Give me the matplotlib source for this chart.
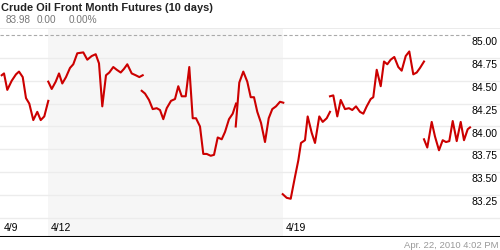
import numpy as np
import matplotlib
matplotlib.use("Agg")
import matplotlib.pyplot as plt

plt.rcParams['font.family'] = ['Liberation Sans', 'DejaVu Sans']

# time is in trading days from the 4/9 open, None breaks the line between sessions
times = [
    0.015, 0.064, 0.134, 0.228, 0.319, 0.383, 0.462, 0.532, 0.602, 0.687, 0.772, 0.845, 0.921, 1.006, None,
    1.006, 1.079, 1.164, 1.234, 1.304, 1.383, 1.468, 1.538, 1.623, 1.751, 1.836, 1.930, 2.015, 2.085, 2.155,
    2.234, 2.304, 2.389, 2.462, 2.547, 2.617, 2.687, 2.781, 2.866, 2.943, 3.015, None,
    2.994, 3.064, 3.149, 3.228, 3.313, 3.383, 3.453, 3.526, 3.617, 3.702, 3.772, 3.845, 3.930, 4.006, 4.079,
    4.149, 4.234, 4.304, 4.377, 4.462, 4.532, 4.611, 4.696, 4.766, 4.851, 4.930, 5.0, None,
    4.994, 5.070, 5.155, 5.240, 5.313, 5.383, 5.453, 5.532, 5.617, 5.696, 5.772, 5.851, 5.936, 6.006, None,
    5.994, 6.079, 6.164, 6.255, 6.326, 6.383, 6.468, 6.525, 6.611, 6.681, 6.772, 6.845, 6.930, 7.0, None,
    7.0, 7.070, 7.155, 7.228, 7.319, 7.404, 7.474, 7.553, 7.638, 7.709, 7.781, 7.866, 7.921, 7.994, 8.079,
    8.149, 8.219, 8.291, 8.368, 8.453, 8.525, 8.611, 8.687, 8.772, 8.845, 8.915, 9.0, None,
    9.0, 9.070, 9.164, 9.234, 9.319, 9.398, 9.468, 9.538, 9.611, 9.696, 9.781, 9.851, 9.930, 9.979,
]
prices = [
    84.56, 84.58, 84.40, 84.50, 84.57, 84.60, 84.54, 84.31, 84.25, 84.07, 84.16, 84.07, 84.11, 84.28, None,
    84.49, 84.41, 84.49, 84.58, 84.47, 84.54, 84.64, 84.68, 84.80, 84.81, 84.73, 84.77, 84.79, 84.69, 84.22,
    84.56, 84.59, 84.65, 84.62, 84.59, 84.63, 84.68, 84.58, 84.56, 84.54, 84.56, None,
    84.39, 84.36, 84.29, 84.19, 84.20, 84.18, 84.08, 84.20, 84.28, 84.30, 84.44, 84.33, 84.33, 84.65, 84.09,
    84.09, 84.00, 83.70, 83.70, 83.68, 83.69, 83.88, 83.86, 83.94, 84.08, 84.14, 84.25, None,
    84.00, 84.48, 84.60, 84.49, 84.32, 84.32, 84.16, 84.04, 83.83, 84.09, 84.19, 84.22, 84.27, 84.26, None,
    83.26, 83.22, 83.21, 83.45, 83.63, 83.82, 83.85, 84.11, 83.93, 83.82, 84.11, 84.05, 84.09, 84.16, None,
    84.33, 84.34, 84.11, 84.29, 84.19, 84.20, 84.18, 84.22, 84.16, 84.14, 84.22, 84.30, 84.32, 84.62, 84.44,
    84.71, 84.68, 84.73, 84.76, 84.65, 84.61, 84.77, 84.82, 84.57, 84.59, 84.64, 84.71, None,
    83.86, 83.77, 84.05, 83.89, 83.74, 83.85, 83.83, 83.84, 84.06, 83.84, 84.05, 83.85, 83.97, 83.99,
]

y_levels = [83.00, 83.25, 83.50, 83.75, 84.00, 84.25, 84.50, 84.75]
y_labels = ['', '83.25', '83.50', '83.75', '84.00', '84.25', '84.50', '84.75']
top_level = 85.00
x_ticks = [0, 1, 6]
x_labels = ['4/9', '4/12', '4/19']
shade_week = (1, 6)

title = 'Crude Oil Front Month Futures (10 days)'
last_price, change, change_pct = '83.98', '0.00', '0.00%'
stamp = 'Apr. 22, 2010 4:02 PM'

t = np.array([np.nan if v is None else v for v in times])
p = np.array([np.nan if v is None else v for v in prices])

fig = plt.figure(figsize=(5, 2.5), dpi=100)
ax = fig.add_axes([0, 0.052, 1, 0.836])
ax.set_xlim(-1 / 47, 499 / 47)
ax.set_ylim(82.792, 85.0765)
ax.axis('off')

ax.axvspan(*shade_week, color='#f6f6f6', lw=0, zorder=0)
for lv in y_levels:
    ax.axhline(lv, color='#ececec', lw=1, zorder=1)
ax.axhline(top_level, xmax=0.94, color='#aaaaaa', lw=0.8, ls=(0, (3, 2)), zorder=1)
ax.axhline(ax.get_ylim()[1], color='#e8e8e8', lw=1.2, zorder=1)
ax.axhline(ax.get_ylim()[0], color='black', lw=2.2, zorder=3)

ax.plot(t, p, color='#cc0000', lw=1.5, zorder=2)

for lv, lab in zip(y_levels + [top_level], y_labels + ['85.00']):
    if lab:
        ax.annotate(lab, xy=(0.943, lv), xycoords=('axes fraction', 'data'),
                    xytext=(0, -1.5), textcoords='offset points',
                    va='top', ha='left', fontsize=7.5, color='black')
for xt, lab in zip(x_ticks, x_labels):
    ax.annotate(lab, xy=(xt, 0), xycoords=('data', 'axes fraction'),
                xytext=(2, 4), textcoords='offset points',
                va='baseline', ha='left', fontsize=7.5, color='black')

fig.text(0.002, 0.968, title, fontsize=7.9, fontweight='bold', color='#222222', va='center')
fig.text(0.011, 0.92, last_price, fontsize=7.2, color='#777777', va='center')
fig.text(0.073, 0.92, change, fontsize=7.2, color='#777777', va='center')
fig.text(0.137, 0.92, change_pct, fontsize=7.2, color='#777777', va='center')
fig.text(0.996, 0.016, stamp, fontsize=6.8, color='#999999', va='center', ha='right')

fig.savefig('out.png', dpi=100)
